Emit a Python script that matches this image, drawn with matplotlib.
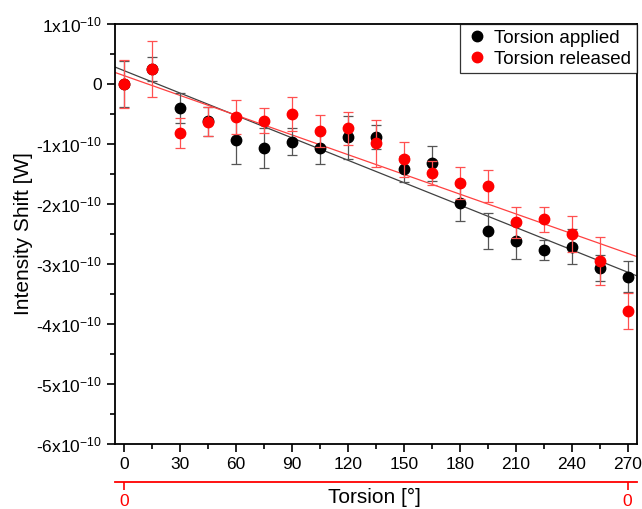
import matplotlib
matplotlib.use("Agg")
import matplotlib.pyplot as plt
import numpy as np
from matplotlib.ticker import MultipleLocator, FuncFormatter
from matplotlib.lines import Line2D

plt.rcParams['font.family'] = ['Liberation Sans', 'DejaVu Sans']
plt.rcParams['mathtext.default'] = 'regular'

# intensity shift in units of 1e-10 W
torsion = [0, 15, 30, 45, 60, 75, 90, 105, 120, 135, 150, 165, 180, 195, 210, 225, 240, 255, 270]
applied = [0, 0.25, -0.40, -0.62, -0.93, -1.07, -0.96, -1.07, -0.89, -0.88, -1.42, -1.32,
           -1.99, -2.45, -2.61, -2.77, -2.71, -3.07, -3.21]
applied_err = [0.38, 0.20, 0.25, 0.24, 0.40, 0.33, 0.22, 0.26, 0.36, 0.20, 0.22, 0.29,
               0.30, 0.30, 0.30, 0.17, 0.29, 0.22, 0.26]
released = [0, 0.25, -0.82, -0.63, -0.555, -0.61, -0.505, -0.78, -0.74, -0.99, -1.255, -1.48,
            -1.655, -1.70, -2.305, -2.255, -2.50, -2.95, -3.78]
released_err = [0.40, 0.47, 0.25, 0.24, 0.28, 0.21, 0.28, 0.27, 0.27, 0.39, 0.29, 0.20,
                0.27, 0.26, 0.26, 0.21, 0.30, 0.40, 0.30]
# linear fits (intercept, slope)
fit_applied = (0.22, -0.01243)
fit_released = (0.137, -0.01096)

fig = plt.figure(figsize=(6.42, 5.09), dpi=100)
ax = fig.add_axes([0.179, 0.1277, 0.813, 0.8253])

xl = (-5, 275)
xx = np.array(xl)
ax.plot(xx, fit_applied[0] + fit_applied[1] * xx, color='#404040', lw=0.9, zorder=2)
ax.plot(xx, fit_released[0] + fit_released[1] * xx, color='#ff4040', lw=0.9, zorder=2)

ax.errorbar(torsion, applied, yerr=applied_err, fmt='o', color='black', ms=7.5,
            ecolor='#555555', elinewidth=0.9, capsize=3.5, capthick=0.9, zorder=3)
ax.errorbar(torsion, released, yerr=released_err, fmt='o', color='#ff0000', ms=7.5,
            ecolor='#ff5050', elinewidth=0.9, capsize=3.5, capthick=0.9, zorder=4)

ax.set_xlim(xl)
ax.set_ylim(-6, 1)
ax.xaxis.set_major_locator(MultipleLocator(30))
ax.xaxis.set_minor_locator(MultipleLocator(15))
ax.yaxis.set_major_locator(MultipleLocator(1))
ax.yaxis.set_minor_locator(MultipleLocator(0.5))


def yfmt(v, pos):
    n = int(round(v))
    if n == 0:
        return '0'
    return '%dx10$^{-10}$' % n


ax.yaxis.set_major_formatter(FuncFormatter(yfmt))
ax.tick_params(which='both', direction='out', width=1.2, labelsize=12.5, colors='black')
ax.tick_params(which='major', length=6)
ax.tick_params(which='minor', length=3.5)
for s in ax.spines.values():
    s.set_linewidth(1.3)
ax.set_ylabel('Intensity Shift [W]', fontsize=15, labelpad=2)

handles = [Line2D([], [], ls='none', marker='o', color='black', ms=7.5),
           Line2D([], [], ls='none', marker='o', color='#ff0000', ms=7.5)]
leg = ax.legend(handles, ['Torsion applied', 'Torsion released'], loc='upper right',
                fontsize=13.5, frameon=True, fancybox=False, edgecolor='black',
                borderaxespad=0, handletextpad=0.3, borderpad=0.3,
                labelspacing=0.2, handlelength=1.2)
leg.get_frame().set_linewidth(0.9)

# red secondary torsion axis below
ax2 = ax.twiny()
ax2.set_xlim(xl)
ax2.xaxis.set_ticks_position('bottom')
ax2.xaxis.set_label_position('bottom')
ax2.spines['bottom'].set_position(('outward', 27))
for k in ['top', 'left', 'right']:
    ax2.spines[k].set_visible(False)
ax2.spines['bottom'].set_color('#ff0000')
ax2.spines['bottom'].set_linewidth(1.3)
ax2.set_xticks([0, 270])
ax2.set_xticklabels(['0', '0'])
ax2.tick_params(axis='x', colors='#ff0000', direction='out', length=6, width=1.2,
                labelsize=12.5, pad=3)

fig.text(0.584, 0.022, 'Torsion [°]', fontsize=15, ha='center', va='center')

fig.savefig('out.png', dpi=100)
